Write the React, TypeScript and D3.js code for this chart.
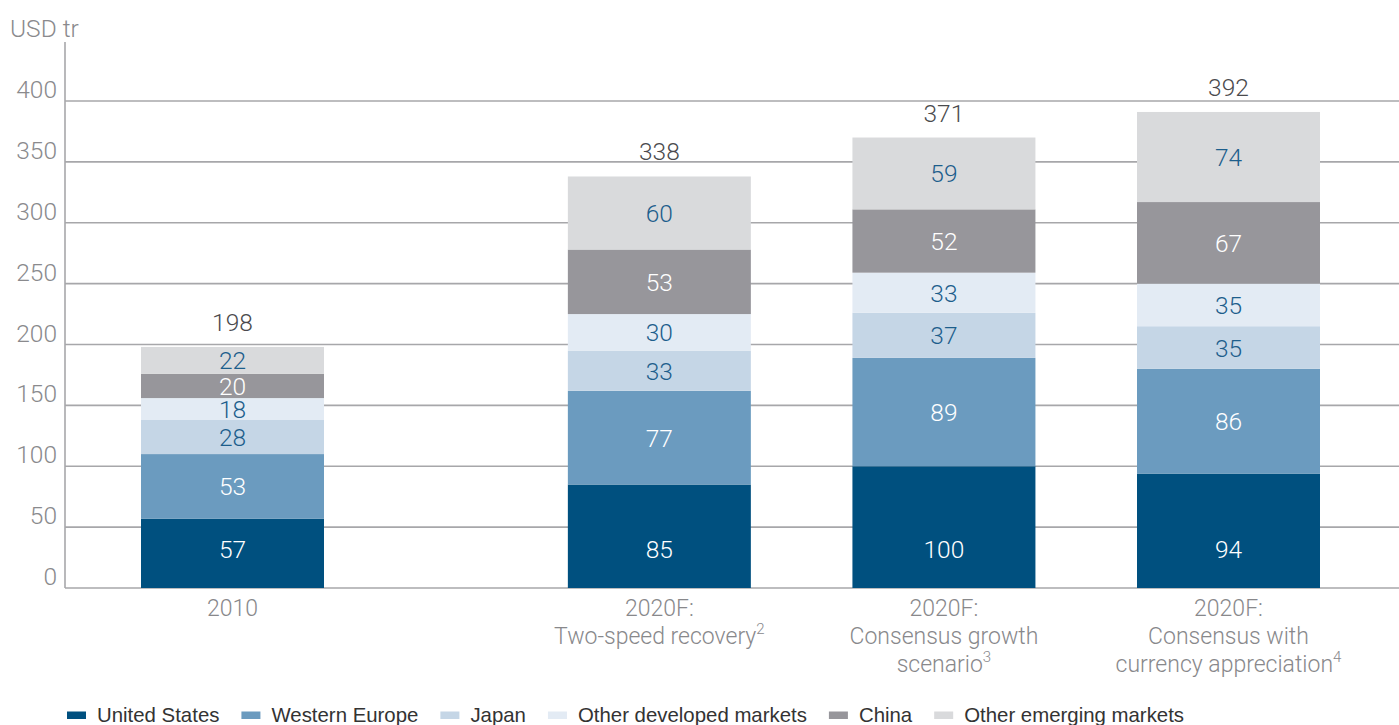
import React, { useEffect, useRef } from 'react';
import * as d3 from 'd3';

const categories = ['2010', '2020F-1', '2020F-2', '2020F-3'];
const categoryLines = [
  [{ text: '2010', sup: '' }],
  [{ text: '2020F:', sup: '' }, { text: 'Two-speed recovery', sup: '2' }],
  [{ text: '2020F:', sup: '' }, { text: 'Consensus growth', sup: '' }, { text: 'scenario', sup: '3' }],
  [{ text: '2020F:', sup: '' }, { text: 'Consensus with', sup: '' }, { text: 'currency appreciation', sup: '4' }],
];
// slot index per category (gap after 2010)
const slots = [0, 1.5, 2.5, 3.5];

const seriesNames = ['United States', 'Western Europe', 'Japan', 'Other developed markets', 'China', 'Other emerging markets'];
const unitedStates = [57, 85, 100, 94];
const westernEurope = [53, 77, 89, 86];
const japan = [28, 33, 37, 35];
const otherDeveloped = [18, 30, 33, 35];
const china = [20, 53, 52, 67];
const otherEmerging = [22, 60, 59, 74];
const totals = [198, 338, 371, 392];

const yTicks = [0, 50, 100, 150, 200, 250, 300, 350, 400];

const colors = ['#00507f', '#6b9bbf', '#c5d6e6', '#e3ebf4', '#97969b', '#d9dadc'];
const labelColors = ['#ffffff', '#ffffff', '#1d5e8c', '#1d5e8c', '#ffffff', '#1d5e8c'];

const W = 1399;
const H = 725;
const FONT = 'Roboto, "Liberation Sans", sans-serif';

export default function App() {
  const svgRef = useRef<SVGSVGElement>(null);

  useEffect(() => {
    if (!svgRef.current) return;
    const svg = d3.select(svgRef.current);
    svg.selectAll('*').remove();

    const y = d3.scaleLinear().domain([0, 400]).range([588, 101]);
    const xSlot = d3.scaleLinear().domain([0, 3.5]).range([232.5, 1228.5]);
    const barW = 183;

    const data = categories.map((c, i) => ({
      cat: c,
      i,
      'United States': unitedStates[i],
      'Western Europe': westernEurope[i],
      Japan: japan[i],
      'Other developed markets': otherDeveloped[i],
      China: china[i],
      'Other emerging markets': otherEmerging[i],
    }));
    const stacked = d3.stack<any>().keys(seriesNames)(data);

    // gridlines
    const grid = svg.append('g');
    grid.selectAll('line')
      .data(yTicks)
      .join('line')
      .attr('x1', 65)
      .attr('x2', W)
      .attr('y1', d => y(d))
      .attr('y2', d => y(d))
      .attr('stroke', '#a7a7aa')
      .attr('stroke-width', 1.6);
    svg.append('line')
      .attr('x1', 65).attr('x2', 65)
      .attr('y1', 42).attr('y2', y(0))
      .attr('stroke', '#a7a7aa')
      .attr('stroke-width', 1.6);

    grid.selectAll('text')
      .data(yTicks)
      .join('text')
      .attr('x', 57)
      .attr('y', d => y(d) - 3)
      .attr('text-anchor', 'end')
      .attr('font-family', FONT)
      .attr('font-weight', 300)
      .attr('font-size', 24.5)
      .attr('fill', '#8a8a8d')
      .text(d => d);

    svg.append('text')
      .attr('x', 10).attr('y', 37)
      .attr('font-family', FONT)
      .attr('font-weight', 300)
      .attr('font-size', 24.5)
      .attr('fill', '#8a8a8d')
      .text('USD tr');

    // bars
    stacked.forEach((layer, si) => {
      const g = svg.append('g');
      g.selectAll('rect')
        .data(layer)
        .join('rect')
        .attr('x', (d, i) => xSlot(slots[i]) - barW / 2)
        .attr('width', barW)
        .attr('y', d => y(d[1]))
        .attr('height', d => y(d[0]) - y(d[1]))
        .attr('fill', colors[si]);
      g.selectAll('text')
        .data(layer)
        .join('text')
        .attr('x', (d, i) => xSlot(slots[i]))
        // bottom-series labels sit at a fixed height above the baseline
        .attr('y', d => (si === 0 ? y(0) - 30 : (y(d[0]) + y(d[1])) / 2 + 9))
        .attr('text-anchor', 'middle')
        .attr('font-family', FONT)
        .attr('font-weight', 300)
        .attr('font-size', 24.5)
        .attr('fill', labelColors[si])
        .text(d => d[1] - d[0]);
    });

    // totals
    const top = stacked[stacked.length - 1];
    svg.append('g').selectAll('text')
      .data(totals)
      .join('text')
      .attr('x', (d, i) => xSlot(slots[i]))
      .attr('y', (d, i) => y(top[i][1]) - 16)
      .attr('text-anchor', 'middle')
      .attr('font-family', FONT)
      .attr('font-weight', 300)
      .attr('font-size', 24.5)
      .attr('fill', '#4a4a4d')
      .text(d => d);

    // category labels
    categoryLines.forEach((lines, i) => {
      lines.forEach((ln, li) => {
        const t = svg.append('text')
          .attr('x', xSlot(slots[i]))
          .attr('y', 616 + li * 28)
          .attr('text-anchor', 'middle')
          .attr('font-family', FONT)
          .attr('font-weight', 300)
          .attr('font-size', 23)
          .attr('fill', '#88888b');
        t.append('tspan').text(ln.text);
        if (ln.sup) {
          t.append('tspan')
            .attr('font-size', 15)
            .attr('dy', -10)
            .text(ln.sup);
        }
      });
    });

    // legend
    const legend = svg.append('g').attr('transform', 'translate(67,722)');
    let lx = 0;
    seriesNames.forEach((name, i) => {
      const item = legend.append('g').attr('transform', `translate(${lx},0)`);
      item.append('rect')
        .attr('x', 0).attr('y', -10.5)
        .attr('width', 19).attr('height', 7.5)
        .attr('fill', colors[i]);
      const txt = item.append('text')
        .attr('x', 30).attr('y', 0)
        .attr('font-family', '"Liberation Sans", Arial, sans-serif')
        .attr('font-size', 20.4)
        .attr('fill', '#333')
        .text(name);
      const w = (txt.node() as SVGTextElement).getComputedTextLength();
      lx += 30 + w + 22;
    });
  }, []);

  return (
    <svg
      ref={svgRef}
      width={W}
      height={H}
      style={{ position: 'absolute', left: 0, top: 0, background: '#fff' }}
    />
  );
}
